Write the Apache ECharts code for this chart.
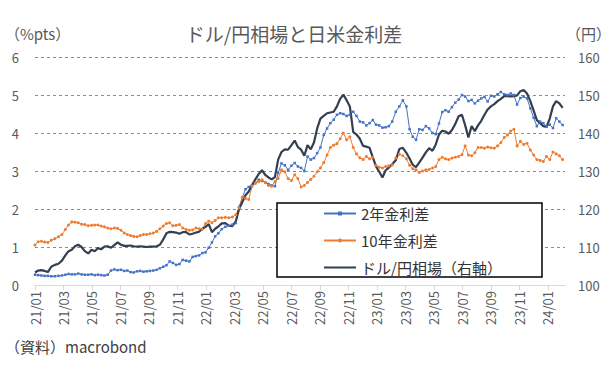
<!DOCTYPE html>
<html><head><meta charset="utf-8">
<script src="https://cdn.jsdelivr.net/npm/echarts@6/dist/echarts.min.js"></script>
<style>html,body{margin:0;padding:0;background:#fff}#c{width:616px;height:372px}</style>
</head><body><div id="c"></div><script>
// ---- data (weekly, first week ending 2021-01-01) ----
const startDate = '2021-01-01';
const tickLabels = ['21/01','21/03','21/05','21/07','21/09','21/11','22/01','22/03','22/05','22/07','22/09','22/11','23/01','23/03','23/05','23/07','23/09','23/11','24/01'];
const legendNames = ['2年金利差','10年金利差','ドル/円相場（右軸）'];

const spread2y = [
  // 2021
  0.27,0.26,0.25,0.24,0.24,0.23,0.23,0.24,0.25,0.27,
  0.29,0.28,0.28,0.30,0.28,0.27,0.27,0.28,0.26,0.27,
  0.26,0.25,0.27,0.38,0.41,0.39,0.40,0.37,0.38,0.34,
  0.33,0.36,0.37,0.35,0.36,0.37,0.38,0.40,0.44,0.48,
  0.52,0.62,0.58,0.53,0.55,0.66,0.64,0.62,0.74,0.76,
  0.78,0.84,0.86,
  // 2022
  0.98,1.12,1.28,1.36,1.47,1.53,1.56,1.59,1.63,2.05,
  2.30,2.52,2.58,2.62,2.68,2.77,2.74,2.70,2.66,2.62,
  2.60,2.95,3.20,3.15,3.03,3.14,3.21,3.12,3.08,3.00,
  3.38,3.30,3.34,3.47,3.62,3.95,4.12,4.26,4.35,4.48,
  4.52,4.50,4.45,4.48,4.56,4.45,4.30,4.28,4.20,4.26,
  4.34,4.22,
  // 2023
  4.20,4.14,4.15,4.18,4.30,4.56,4.70,4.86,4.70,4.10,
  3.90,3.82,4.10,4.08,4.18,4.12,4.00,3.97,4.25,4.55,
  4.60,4.56,4.68,4.80,4.88,5.00,4.96,4.84,4.87,4.78,
  4.85,4.91,4.95,4.83,4.98,4.96,5.02,5.08,5.02,5.00,
  5.04,5.00,4.75,4.92,4.96,4.91,4.65,4.40,4.18,4.30,
  4.26,4.17,
  // 2024
  4.22,4.13,4.39,4.30,4.21
];

const spread10y = [
  // 2021
  1.05,1.14,1.15,1.13,1.12,1.18,1.22,1.27,1.33,1.46,
  1.58,1.66,1.65,1.64,1.60,1.59,1.56,1.57,1.58,1.58,
  1.55,1.53,1.50,1.48,1.50,1.49,1.44,1.37,1.33,1.30,
  1.28,1.27,1.30,1.33,1.33,1.35,1.37,1.41,1.48,1.55,
  1.62,1.64,1.56,1.57,1.59,1.50,1.46,1.44,1.45,1.50,
  1.48,1.46,1.62,
  // 2022
  1.68,1.64,1.70,1.77,1.77,1.78,1.77,1.79,1.85,2.03,
  2.30,2.28,2.25,2.60,2.68,2.72,2.77,2.70,2.62,2.60,
  2.72,2.80,3.03,2.98,2.80,2.75,2.90,2.80,2.58,2.62,
  2.70,2.78,2.86,2.98,3.08,3.22,3.42,3.62,3.68,3.72,
  3.85,4.00,3.82,3.90,3.62,3.45,3.35,3.30,3.38,3.32,
  3.36,3.15,
  // 2023
  3.10,3.08,3.12,3.14,3.16,3.34,3.44,3.40,3.32,3.15,
  3.06,3.03,2.96,3.00,3.03,3.04,3.08,3.12,3.30,3.36,
  3.32,3.30,3.34,3.36,3.38,3.43,3.66,3.42,3.40,3.48,
  3.62,3.62,3.60,3.63,3.61,3.60,3.66,3.75,3.88,3.95,
  4.05,4.10,3.66,3.78,3.70,3.73,3.55,3.42,3.30,3.28,
  3.25,3.38,
  // 2024
  3.30,3.50,3.45,3.40,3.30
];

const usdjpy = [
  // 2021
  103.3,103.8,103.9,103.7,103.4,104.8,105.3,105.6,106.4,107.8,
  108.9,109.3,110.2,110.6,110.0,108.9,108.3,109.3,108.9,109.7,
  109.4,110.1,110.2,109.8,110.5,111.2,110.6,110.3,110.3,110.4,
  110.2,110.1,110.2,110.1,110.0,110.1,110.1,110.2,110.6,112.0,
  113.6,114.0,113.9,113.8,113.5,113.9,113.9,113.3,113.5,113.8,
  114.0,114.8,115.3,
  // 2022
  116.0,113.9,114.8,115.4,116.2,116.3,115.6,115.5,116.8,120.0,
  121.8,123.6,124.6,126.3,127.8,129.2,130.2,129.0,128.3,127.8,
  128.4,133.0,135.0,135.7,135.6,136.8,138.0,136.3,135.6,134.0,
  136.8,135.7,137.5,141.2,143.8,144.5,145.2,145.4,145.6,147.0,
  149.0,150.1,148.6,147.0,140.3,139.6,138.5,136.6,136.4,136.1,
  133.6,131.2,
  // 2023
  129.8,128.3,130.2,130.9,131.8,132.8,135.8,136.1,134.8,133.3,
  131.6,131.0,132.2,133.5,134.9,136.0,135.3,137.0,139.6,140.6,
  140.4,139.8,140.8,142.4,144.4,144.8,142.0,138.8,141.8,140.5,
  142.0,143.2,144.8,146.2,147.0,147.6,148.4,149.0,149.7,149.7,
  149.6,149.7,149.9,151.0,151.3,150.4,148.4,145.9,143.4,142.6,
  141.8,141.6,
  // 2024
  143.8,147.0,148.4,147.8,146.6
];

// ---- helpers: week dates -> months since 2021/01 ----
function toMonth(d){
  const y = d.getUTCFullYear(), m = d.getUTCMonth();
  const dim = new Date(Date.UTC(y, m + 1, 0)).getUTCDate();
  return (y - 2021) * 12 + m + (d.getUTCDate() - 1) / dim;
}
const t0 = Date.parse(startDate + 'T00:00:00Z');
const xMonths = spread2y.map((_, i) => toMonth(new Date(t0 + i * 7 * 86400000)));
const tickValues = tickLabels.map(s => { const p = s.split('/').map(Number); return (p[0] - 21) * 12 + p[1] - 1; });

const font = "'Noto Sans CJK JP','Noto Sans',sans-serif";
const gray = '#595959';

const chart = echarts.init(document.getElementById('c'), null, {renderer:'svg'});
chart.setOption({
  animation:false,
  textStyle:{fontFamily:font},
  title:[
    {text:'ドル/円相場と日米金利差', left:289, textAlign:'center', top:19,
     textStyle:{fontSize:19, fontWeight:'normal', color:gray, fontFamily:font}},
    {text:'（%pts）', left:0, top:21, textStyle:{fontSize:15, fontWeight:'normal', color:gray, fontFamily:font}},
    {text:'（円）', right:0, top:21, textStyle:{fontSize:15, fontWeight:'normal', color:gray, fontFamily:font}},
    {text:'（資料）macrobond', left:0, top:334, textStyle:{fontSize:15, fontWeight:'normal', color:'#404040', fontFamily:font}}
  ],
  grid:{left:35, right:51, top:57, bottom:87},
  xAxis:{
    type:'value', min:0, max:37.2,
    axisLine:{lineStyle:{color:'#d9d9d9', width:1}},
    axisTick:{customValues:tickValues, length:5, lineStyle:{color:'#d9d9d9'}},
    axisLabel:{customValues:tickValues, rotate:90, margin:6, fontSize:13, color:gray, fontFamily:font,
      formatter:v => tickLabels[tickValues.indexOf(v)] || ''},
    splitLine:{show:false}
  },
  yAxis:[
    {type:'value', min:0, max:6, interval:1,
     axisLine:{show:false}, axisTick:{show:false},
     axisLabel:{margin:16, fontSize:13, color:gray, fontFamily:font},
     splitLine:{showMinLine:false, lineStyle:{type:[3,3], color:'#8c8c8c', width:1}}},
    {type:'value', min:100, max:160, interval:10, position:'right',
     axisLine:{show:false}, axisTick:{show:false},
     axisLabel:{margin:13, fontSize:13, color:gray, fontFamily:font},
     splitLine:{show:false}}
  ],
  graphic:[{type:'rect', z:100, shape:{x:277, y:203, width:265, height:74},
    style:{fill:'#ffffff', stroke:'#000000', lineWidth:1.5}}],
  legend:{
    data:[{name:legendNames[0]}, {name:legendNames[1]}, {name:legendNames[2], itemStyle:{opacity:0}}],
    orient:'vertical', left:323, top:206, padding:0, z:200,
    itemWidth:32, itemHeight:5, itemGap:12,
    textStyle:{fontSize:15, lineHeight:15, color:'#333333', fontFamily:font}
  },
  series:[
    {name:legendNames[0], type:'line', yAxisIndex:0,
     data:xMonths.map((x, i) => [x, spread2y[i]]),
     symbol:'rect', symbolSize:2.5,
     lineStyle:{width:1, color:'#4472C4'}, itemStyle:{color:'#4472C4'}},
    {name:legendNames[1], type:'line', yAxisIndex:0,
     data:xMonths.map((x, i) => [x, spread10y[i]]),
     symbol:'circle', symbolSize:3,
     lineStyle:{width:1, color:'#ED7D31'}, itemStyle:{color:'#ED7D31'}},
    {name:legendNames[2], type:'line', yAxisIndex:1,
     data:xMonths.map((x, i) => [x, usdjpy[i]]),
     symbol:'none',
     lineStyle:{width:2.2, color:'#333F50'}, itemStyle:{color:'#333F50'}}
  ]
});
</script></body></html>
